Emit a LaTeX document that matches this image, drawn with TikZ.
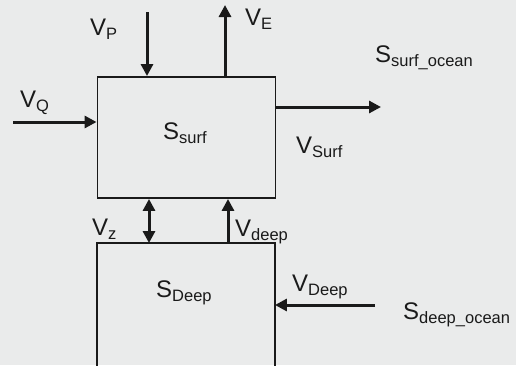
\documentclass[tikz,border=0pt]{standalone}
\usepackage{fontspec}
\setmainfont{Liberation Sans}
\usetikzlibrary{arrows.meta}
\definecolor{panelgray}{RGB}{234,235,235}
\definecolor{inkdark}{RGB}{26,26,26}
\newcommand\sub[1]{\raisebox{-4pt}{\fontsize{16.5}{18}\selectfont #1}}

\begin{document}
\begin{tikzpicture}[x=1pt,y=-1pt,>={Triangle[length=12pt,width=12pt]}]
\tikzset{box/.style={draw=inkdark,line width=1.9pt,minimum width=178pt,minimum height=121pt,inner sep=0pt},
  openbox/.style={box,draw=none,minimum width=176pt},
  flow/.style={->,draw=inkdark,line width=3pt},
  lab/.style={font=\fontsize{24}{26}\selectfont,text=inkdark,inner sep=0pt,anchor=base west}}
\fill[panelgray] (0,0) rectangle (516,365);
\useasboundingbox (0,0) rectangle (516,365);
% the two reservoirs
\node[box] (surf) at (186.5,137.5) {};
\node[openbox] (deep) at (186,304.5) {};
\draw[draw=inkdark,line width=1.9pt] (deep.south west) -- (deep.north west) -- (deep.north east) -- (deep.south east);
% labels
\node[lab] (ssurf) at (163,139) {S\sub{surf}};
\node[lab] (sdeep) at (156,297) {S\sub{Deep}};
\node[lab] (socs) at (375,62) {S\sub{surf\_ocean}};
\node[lab] (socd) at (403,319) {S\sub{deep\_ocean}};
\node[lab] (vp) at (90,35) {V\sub{P}};
\node[lab] (ve) at (245,25) {V\sub{E}};
\node[lab] (vq) at (20,107) {V\sub{Q}};
\node[lab] (vsurf) at (296,153) {V\sub{Surf}};
\node[lab] (vz) at (92,235) {V\sub{z}};
\node[lab] (vdeep) at (235,236) {V\sub{deep}};
\node[lab] (vDeep) at (292,291) {V\sub{Deep}};
% fluxes
\coordinate (pin) at (147,12);
\draw[flow] (pin) -- (pin |- surf.north);
\coordinate (eout) at (225,5);
\draw[flow] (eout |- surf.north) -- (eout);
\coordinate (qin) at (13,122);
\draw[flow] (qin) -- (qin -| surf.west);
\coordinate (sout) at (381,107);
\draw[flow] (sout -| surf.east) -- (sout);
\coordinate (zx) at (149,0);
\draw[flow,<->] (zx |- surf.south) -- (zx |- deep.north);
\coordinate (dx) at (228,0);
\draw[flow] (dx |- deep.north) -- (dx |- surf.south);
\coordinate (din) at (375,305);
\draw[flow] (din) -- (din -| deep.east);
\end{tikzpicture}
\end{document}
